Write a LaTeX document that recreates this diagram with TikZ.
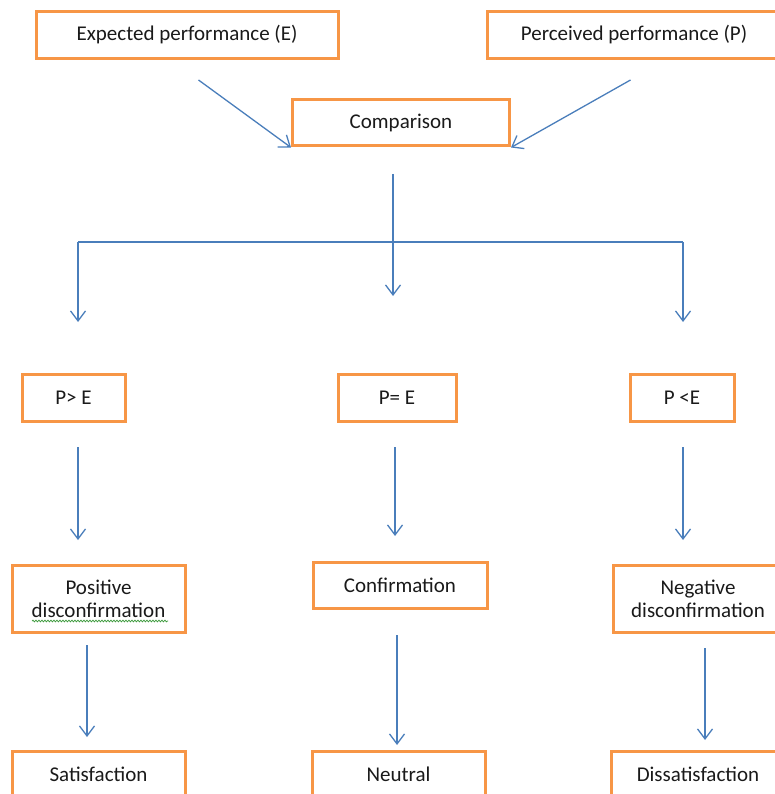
\documentclass[tikz,border=0pt]{standalone}
\usepackage{fontspec}
\setmainfont{Carlito}
\usetikzlibrary{arrows.meta,decorations.pathmorphing}
\definecolor{boxorange}{HTML}{F79646}
\definecolor{arrblue}{HTML}{4A7EBB}
\definecolor{txtcol}{HTML}{1A1A1A}
\definecolor{spellgreen}{HTML}{3C9A3C}
\begin{document}
\begin{tikzpicture}[x=1pt,y=-1pt,
  box/.style={draw=boxorange, line width=3pt, fill=white, text=txtcol, align=center,
    inner sep=0pt, font=\fontsize{21}{23}\selectfont},
  arr/.style={draw=arrblue, line width=1.3pt, -{Straight Barb[length=10pt,width=15pt]}},
  plainline/.style={draw=arrblue, line width=1.3pt}]
\useasboundingbox (0,0) rectangle (775,794);
\clip (0,0) rectangle (775,794);

% row 1
\node[box, minimum width=302pt, minimum height=47pt] (E) at (187,35) {Expected performance (E)};
\node[box, minimum width=294pt, minimum height=47pt] (P) at (634,35) {Perceived performance (P)};
\node[box, minimum width=217pt, minimum height=46pt] (C) at (401,123) {Comparison};

% row 2
\node[box, minimum width=103pt, minimum height=47pt] (pg) at (73.5,397.5) {P> E};
\node[box, minimum width=118pt, minimum height=47pt] (pe) at (397,397.5) {P= E};
\node[box, minimum width=104pt, minimum height=47pt] (pl) at (682,397.5) {P <E};

% row 3
\node[box, minimum width=173pt, minimum height=67pt] (pos) at (98.5,598.5) {Positive\\disconfirmation};
\node[box, minimum width=174pt, minimum height=46pt] (conf) at (400,585) {Confirmation};
\node[box, minimum width=170pt, minimum height=67pt] (neg) at (698,598.5) {Negative\\disconfirmation};

% row 4
\node[box, minimum width=173pt, minimum height=46pt] (sat) at (98.5,774) {Satisfaction};
\node[box, minimum width=173pt, minimum height=46pt] (neu) at (398.5,774) {Neutral};
\node[box, minimum width=174pt, minimum height=46pt] (dis) at (698,774) {Dissatisfaction};

% spell-check underline
\draw[spellgreen, line width=0.7pt, decorate, decoration={snake, amplitude=0.9pt, segment length=3pt}]
  (32,621) -- (168,621);

% connectors
\draw[arr] ([xshift=164pt,yshift=-20pt]E.south west) -- (C.south west);
\draw[arr] ([xshift=145pt,yshift=-20pt]P.south west) -- (C.south east);

\coordinate (ctop) at (393,174);
\coordinate (cmid) at (393,242);
\coordinate (cend) at (393,296);
\coordinate (hl) at (78,242);
\coordinate (hr) at (683,242);
\coordinate (hlend) at (78,322);
\coordinate (hrend) at (683,322);
\draw[arr] (ctop) -- (cend);
\draw[plainline] (hl) -- (hr);
\draw[arr] (hl) -- (hlend);
\draw[arr] (hr) -- (hrend);

\coordinate (a1s) at (78,447);   \coordinate (a1e) at (78,540);
\coordinate (a2s) at (395,447);  \coordinate (a2e) at (395,536);
\coordinate (a3s) at (683,447);  \coordinate (a3e) at (683,540);
\draw[arr] (a1s) -- (a1e);
\draw[arr] (a2s) -- (a2e);
\draw[arr] (a3s) -- (a3e);

\coordinate (b1s) at (87,645);   \coordinate (b1e) at (87,737);
\coordinate (b2s) at (397,635);  \coordinate (b2e) at (397,745);
\coordinate (b3s) at (705,648);  \coordinate (b3e) at (705,740);
\draw[arr] (b1s) -- (b1e);
\draw[arr] (b2s) -- (b2e);
\draw[arr] (b3s) -- (b3e);
\end{tikzpicture}
\end{document}
